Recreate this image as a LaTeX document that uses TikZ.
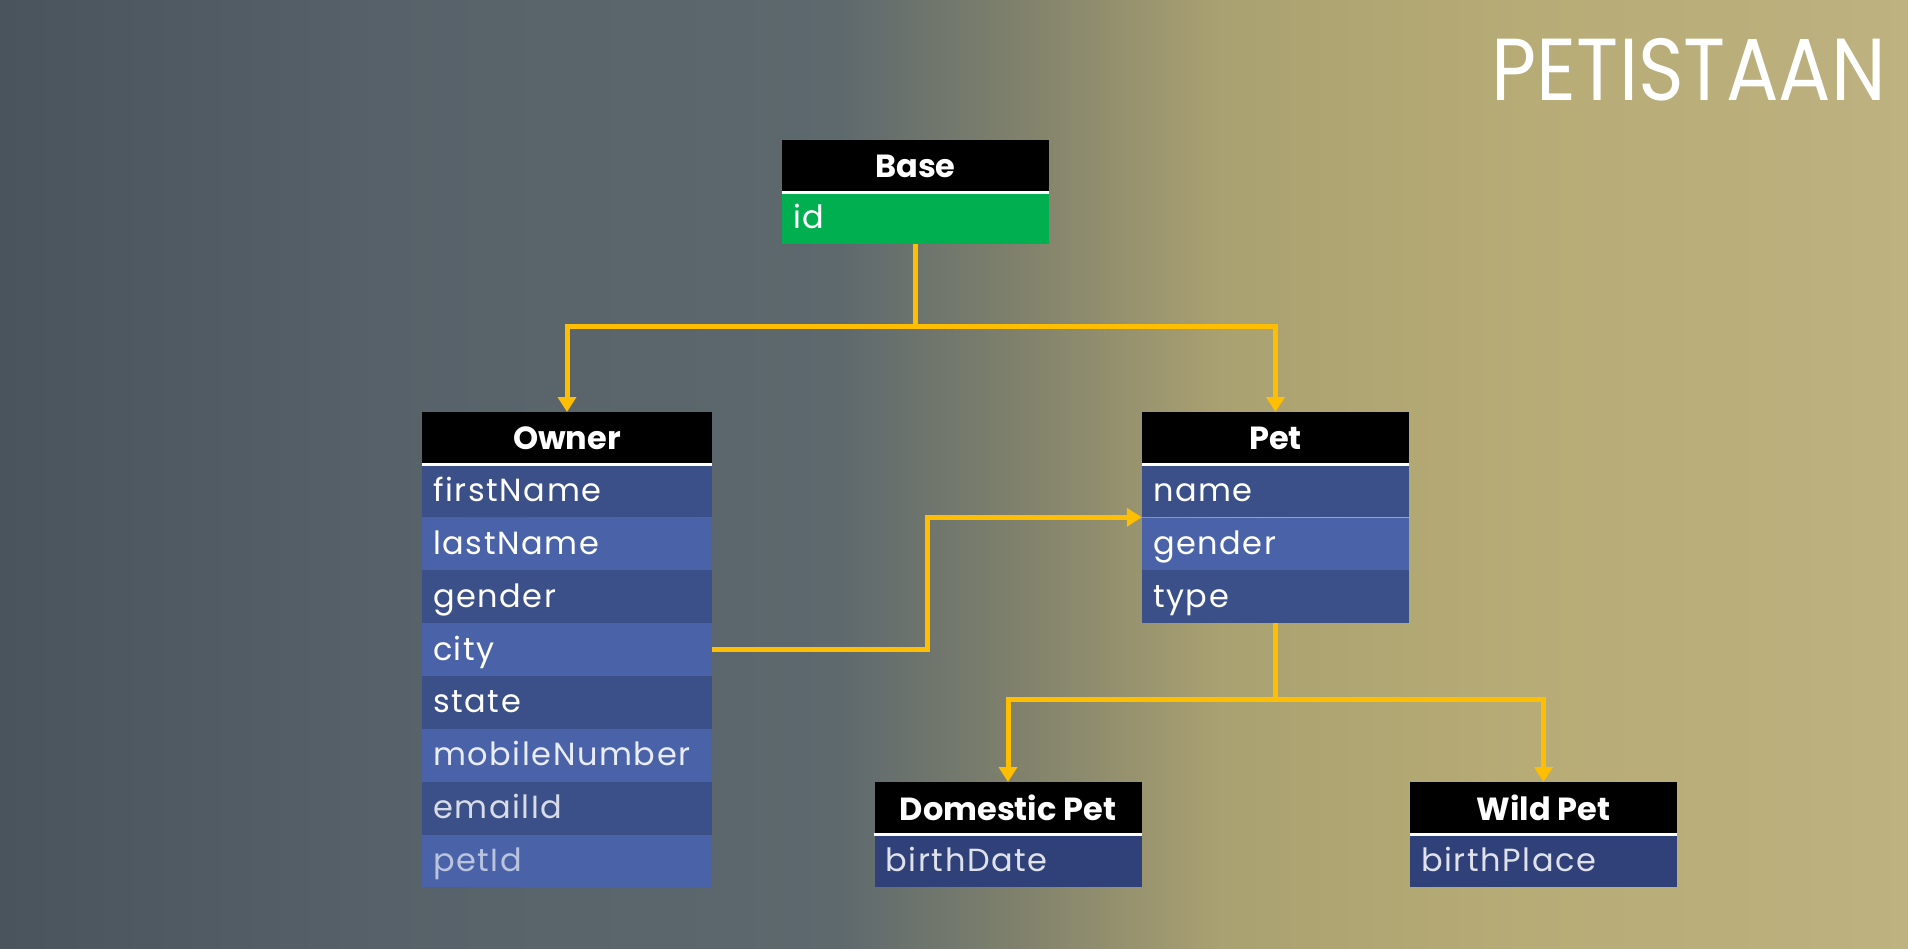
\documentclass[tikz,border=0pt]{standalone}
\usepackage{fontspec}
\setmainfont{Poppins}
\newfontfamily\titlefont[FakeStretch=0.885]{Poppins}
\newfontfamily\fieldfont[LetterSpace=5]{Poppins}
\usetikzlibrary{arrows.meta, positioning, calc}
\definecolor{bgL}{RGB}{74,84,93}
\definecolor{bgA}{RGB}{86,97,105}
\definecolor{bgB}{RGB}{94,105,110}
\definecolor{bgC}{RGB}{130,131,108}
\definecolor{bgD}{RGB}{170,161,113}
\definecolor{bgE}{RGB}{183,172,118}
\definecolor{bgR}{RGB}{189,178,128}
\definecolor{rowdark}{HTML}{3B4F88}
\definecolor{rowlight}{HTML}{4A63A8}
\definecolor{rowdeep}{HTML}{2F4178}
\definecolor{idgreen}{HTML}{00B050}
\definecolor{linkgold}{HTML}{FFBF00}
\pgfdeclarehorizontalshading{slidebg}{100bp}{color(0bp)=(bgL); color(25bp)=(bgL);
  color(35bp)=(bgA); color(47bp)=(bgB); color(52bp)=(bgC); color(57bp)=(bgD);
  color(65bp)=(bgE); color(75bp)=(bgR); color(100bp)=(bgR)}

\begin{document}
\begin{tikzpicture}[
  x=1pt, y=1pt,
  hdr/.style={
    rectangle, fill=black, text=white,
    font=\fontsize{32}{36}\bfseries\selectfont,
    minimum width=#1, minimum height=52pt,
    inner sep=0pt, anchor=north
  },
  field/.style={
    rectangle, text=white,
    font=\fieldfont\fontsize{32}{35}\selectfont,
    minimum height=52.5pt, inner xsep=11pt, inner ysep=0pt,
    align=left, text height=26pt, text depth=5pt
  },
  dark/.style={field, fill=rowdark},
  light/.style={field, fill=rowlight},
  deep/.style={field, fill=rowdeep},
  idrow/.style={field, fill=idgreen, minimum height=51pt},
  wide/.style={text width=268pt},
  narrow/.style={text width=245pt},
  sepline/.style={draw=white, line width=2.5pt},
  link/.style={draw=linkgold, line width=5pt},
  arrow/.style={link, -{Triangle[width=18pt, length=15pt]}}
]
  % background
  \shade[shading=slidebg] (0,0) rectangle (1908,-948);
  \node[anchor=base east, inner sep=0pt, text=white, font=\titlefont\fontsize{88}{96}\selectfont]
    (title) at (1886,-100) {PETISTAAN};

  % Base
  \node[hdr=267pt] (base) at (915.5,-140) {Base};
  \node[idrow, narrow, below=0pt of base] (baseId) {id};
  \draw[sepline] (base.south west) -- (base.south east);

  % Owner
  \node[hdr=290pt] (owner) at (567,-412) {Owner};
  \node[dark, wide, below=0pt of owner] (ownerFirst) {firstName};
  \node[light, wide, below=0pt of ownerFirst] (ownerLast) {lastName};
  \node[dark, wide, below=0pt of ownerLast] (ownerGender) {gender};
  \node[light, wide, below=0pt of ownerGender] (ownerCity) {city};
  \node[dark, wide, below=0pt of ownerCity] (ownerState) {state};
  \node[light, wide, below=0pt of ownerState, text=white!88!rowlight] (ownerMobile) {mobileNumber};
  \node[dark, wide, below=0pt of ownerMobile, text=white!80!rowdark] (ownerEmail) {emailId};
  \node[light, wide, below=0pt of ownerEmail, text=white!62!rowlight] (ownerPet) {petId};
  \draw[sepline] (owner.south west) -- (owner.south east);

  % Pet
  \node[hdr=267pt] (pet) at (1275.5,-412) {Pet};
  \node[dark, narrow, below=0pt of pet] (petName) {name};
  \node[light, narrow, below=0pt of petName] (petGender) {gender};
  \node[dark, narrow, below=0pt of petGender] (petType) {type};
  \draw[sepline] (pet.south west) -- (pet.south east);

  % Domestic Pet / Wild Pet
  \node[hdr=267pt] (domestic) at (1008,-782) {Domestic Pet};
  \node[deep, narrow, below=0pt of domestic, text=white!85!rowdeep] (domesticBirth) {birthDate};
  \draw[sepline] (domestic.south west) -- (domestic.south east);

  \node[hdr=267pt] (wild) at (1543.5,-782) {Wild Pet};
  \node[deep, narrow, below=0pt of wild, text=white!85!rowdeep] (wildBirth) {birthPlace};
  \draw[sepline] (wild.south west) -- (wild.south east);

  % links
  \draw[arrow] (baseId.south) -- ++(0,-83) -| (owner.north);
  \draw[arrow] (baseId.south) -- ++(0,-83) -| (pet.north);
  \draw[arrow] (ownerCity.east) -- ++(215,0) |- (petName.south west);
  \draw[arrow] (petType.south) -- ++(0,-76) -| (domestic.north);
  \draw[arrow] (petType.south) -- ++(0,-76) -| (wild.north);
\end{tikzpicture}
\end{document}
